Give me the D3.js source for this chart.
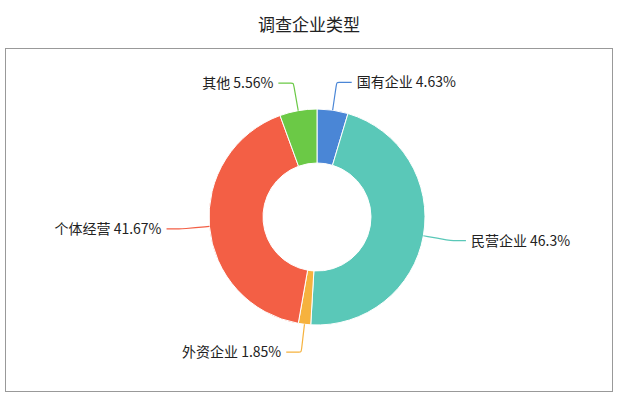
<!DOCTYPE html><html><head><meta charset="utf-8"><script src="https://cdn.jsdelivr.net/npm/d3@7"></script>
<style>body{margin:0;background:#fff}</style></head><body><svg id="c" width="619" height="408"></svg>
<script>
const categories=["国有企业","民营企业","外资企业","个体经营","其他"];
const values=[4.63,46.3,1.85,41.67,5.56];
const labels=["4.63%","46.3%","1.85%","41.67%","5.56%"];
const colors=["#4a86d6","#5ac8b8","#f6b23e","#f35f45","#6bc946"];
const svg=d3.select("#c");
const font="'Noto Sans CJK SC',sans-serif";
svg.append("text").attr("x",309).attr("y",31).attr("text-anchor","middle").attr("font-family",font).attr("font-size",17).attr("fill","#222").text("调查企业类型");
svg.append("rect").attr("x",5.5).attr("y",48.5).attr("width",607).attr("height",343).attr("fill","none").attr("stroke","#999");
const cx=317,cy=217,R=108,r=54;
const g=svg.append("g").attr("transform",`translate(${cx},${cy})`);
const pie=d3.pie().sort(null).value(d=>d)(values);
const arc=d3.arc().innerRadius(r).outerRadius(R);
g.selectAll("path.s").data(pie).join("path").attr("d",arc).attr("fill",(d,i)=>colors[i]).attr("stroke","#fff").attr("stroke-width",1);
const line=d3.line().curve(d3.curveBasis);
pie.forEach((d,i)=>{
  const a=(d.startAngle+d.endAngle)/2, sx=Math.sin(a), sy=-Math.cos(a);
  const p0=[sx*R,sy*R], p1=[sx*(R+28),sy*(R+28)], dir=sx>=0?1:-1, p2=[p1[0]+15*dir,p1[1]];
  g.append("path").attr("d",line([p0,p1,p1,p2])).attr("fill","none").attr("stroke",colors[i]).attr("stroke-width",1.2);
  g.append("text").attr("x",p2[0]+5*dir).attr("y",p2[1]).attr("dy","0.35em").attr("text-anchor",dir>0?"start":"end")
   .attr("font-family",font).attr("font-size",14).attr("fill","#222").text(categories[i]+" "+labels[i]);
});
</script></body></html>
